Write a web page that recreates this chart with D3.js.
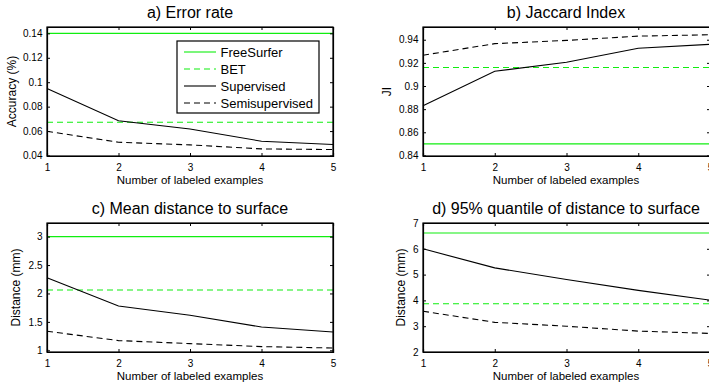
<!DOCTYPE html>
<html>
<head>
<meta charset="utf-8">
<script src="https://cdn.jsdelivr.net/npm/d3@7"></script>
<style>
  body { margin: 0; background: #fff; }
  svg text { font-family: "Liberation Sans", Arial, sans-serif; fill: #000; }
</style>
</head>
<body>
<div id="chart-area"></div>
<script>
// data
var examples = [1, 2, 3, 4, 5];

var errFree = 0.14, errBet = 0.0672;
var errSup = [0.0948, 0.0685, 0.0617, 0.0517, 0.049];
var errSemi = [0.0598, 0.0509, 0.0487, 0.0454, 0.0449];

var jiFree = 0.85, jiBet = 0.916;
var jiSup = [0.8829, 0.9127, 0.9206, 0.9326, 0.936];
var jiSemi = [0.9266, 0.9366, 0.9394, 0.9431, 0.9443];

var meanFree = 3.0, meanBet = 2.06;
var meanSup = [2.275, 1.78, 1.617, 1.41, 1.323];
var meanSemi = [1.335, 1.171, 1.118, 1.065, 1.04];

var q95Free = 6.61, q95Bet = 3.87;
var q95Sup = [6.0, 5.26, 4.81, 4.39, 4.01];
var q95Semi = [3.58, 3.15, 3.0, 2.81, 2.72];

var errTicks = [0.04, 0.06, 0.08, 0.1, 0.12, 0.14];
var jiTicks = [0.84, 0.86, 0.88, 0.9, 0.92, 0.94];
var meanTicks = [1, 1.5, 2, 2.5, 3];
var q95Ticks = [2, 3, 4, 5, 6, 7];

var legendNames = ["FreeSurfer", "BET", "Supervised", "Semisupervised"];

var W = 709, H = 387;
var svg = d3.select("#chart-area").append("svg")
    .attr("width", W)
    .attr("height", H);

var green = "#10ee10";
var styles = [
    { color: green, dash: null },
    { color: green, dash: "6,4" },
    { color: "#000", dash: null },
    { color: "#000", dash: "6,4" }
];

var fmt = function(d) { return String(+d.toFixed(3)); };

function panel(opts) {
    var g = svg.append("g")
        .attr("transform", "translate(" + opts.left + "," + opts.top + ")");
    var w = opts.width, h = opts.height;

    var x = d3.scaleLinear().domain([1, 5]).range([0, w]);
    var y = d3.scaleLinear().domain(opts.domain).range([h, 0]);

    var line = d3.line()
        .x(function(d, i) { return x(examples[i]); })
        .y(function(d) { return y(d); });

    var series = [
        examples.map(function() { return opts.free; }),
        examples.map(function() { return opts.bet; }),
        opts.sup,
        opts.semi
    ];

    g.selectAll("path.series")
        .data(series)
        .enter().append("path")
        .attr("class", "series")
        .attr("fill", "none")
        .attr("stroke", function(d, i) { return styles[i].color; })
        .attr("stroke-width", 1.1)
        .attr("stroke-dasharray", function(d, i) { return styles[i].dash; })
        .attr("d", line);

    // axes (ticks inward, box on)
    var xAxisCall = d3.axisBottom(x).tickValues(examples).tickSize(-3).tickPadding(7.5).tickFormat(d3.format("d"));
    var yAxisCall = d3.axisLeft(y).tickValues(opts.ticks).tickSize(-3).tickPadding(4.5).tickFormat(fmt);

    g.append("g")
        .attr("transform", "translate(0," + h + ")")
        .call(xAxisCall);
    g.append("g").call(yAxisCall);

    g.append("g").call(d3.axisTop(x).tickValues(examples).tickSize(-3).tickFormat(""));
    g.append("g").attr("transform", "translate(" + w + ",0)")
        .call(d3.axisRight(y).tickValues(opts.ticks).tickSize(-3).tickFormat(""));

    g.selectAll(".domain").attr("stroke", "#000").attr("stroke-width", 1.2);
    g.selectAll(".tick line").attr("stroke", "#000");
    g.selectAll(".tick text").attr("font-size", 10);

    g.append("rect")
        .attr("width", w).attr("height", h)
        .attr("fill", "none").attr("stroke", "#000").attr("stroke-width", 1.2);

    g.append("text")
        .attr("x", 143).attr("y", -9)
        .attr("text-anchor", "middle")
        .attr("font-size", 16)
        .text(opts.title);

    g.append("text")
        .attr("x", 143).attr("y", h + 28)
        .attr("text-anchor", "middle")
        .attr("font-size", 11.5)
        .text("Number of labeled examples");

    g.append("text")
        .attr("transform", "rotate(-90)")
        .attr("x", -h / 2).attr("y", opts.ylabelX)
        .attr("text-anchor", "middle")
        .attr("font-size", 12)
        .text(opts.ylabel);

    return { g: g, x: x, y: y };
}

var pa = panel({ left: 47, top: 27, width: 286, height: 129, domain: [0.0396, 0.1452],
    ticks: errTicks, free: errFree, bet: errBet, sup: errSup, semi: errSemi,
    title: "a) Error rate", ylabel: "Accuracy (%)", ylabelX: -31.5 });
panel({ left: 423, top: 27, width: 287, height: 129, domain: [0.8395, 0.951],
    ticks: jiTicks, free: jiFree, bet: jiBet, sup: jiSup, semi: jiSemi,
    title: "b) Jaccard Index", ylabel: "JI", ylabelX: -32.5 });
panel({ left: 47, top: 223, width: 286, height: 129, domain: [0.97, 3.24],
    ticks: meanTicks, free: meanFree, bet: meanBet, sup: meanSup, semi: meanSemi,
    title: "c) Mean distance to surface", ylabel: "Distance (mm)", ylabelX: -27.5 });
panel({ left: 423, top: 223, width: 287, height: 129, domain: [2, 7],
    ticks: q95Ticks, free: q95Free, bet: q95Bet, sup: q95Sup, semi: q95Semi,
    title: "d) 95% quantile of distance to surface", ylabel: "Distance (mm)", ylabelX: -18.5 });

// legend in panel a
var legend = pa.g.append("g").attr("transform", "translate(130,14)");
legend.append("rect")
    .attr("width", 142).attr("height", 72)
    .attr("fill", "#fff").attr("stroke", "#000").attr("stroke-width", 1.2);
var items = legend.selectAll("g.item")
    .data(legendNames)
    .enter().append("g")
    .attr("class", "item")
    .attr("transform", function(d, i) { return "translate(0," + (11 + i * 17) + ")"; });
items.append("line")
    .attr("x1", 7).attr("x2", 39)
    .attr("stroke", function(d, i) { return styles[i].color; })
    .attr("stroke-width", 1.1)
    .attr("stroke-dasharray", function(d, i) { return styles[i].dash; });
items.append("text")
    .attr("x", 43.5).attr("dy", "0.35em")
    .attr("font-size", 13)
    .text(function(d) { return d; });
</script>
</body>
</html>
